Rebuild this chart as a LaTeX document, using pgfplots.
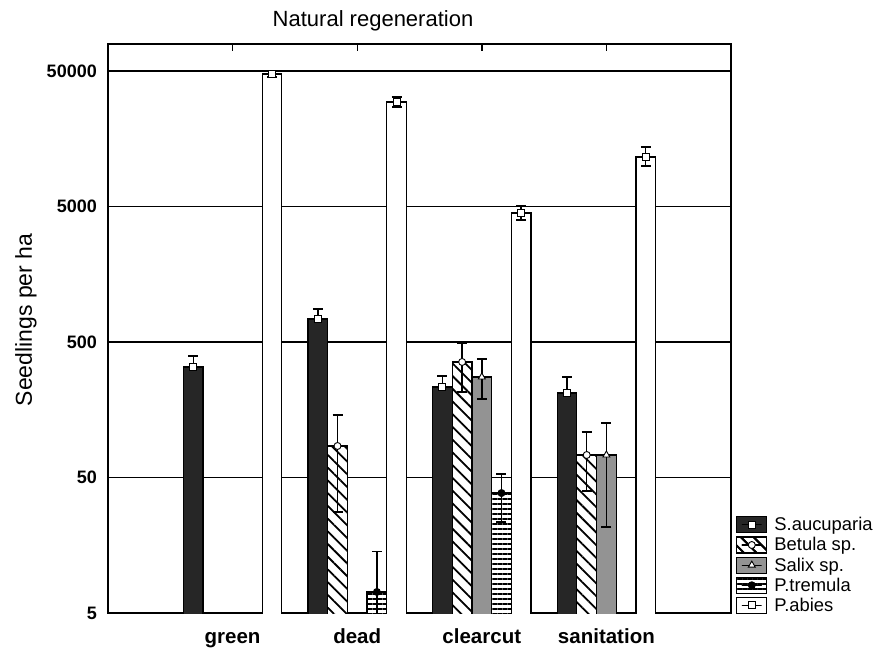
\documentclass[border=0pt]{standalone}
\usepackage{fontspec}
\setmainfont{Liberation Sans}
\usepackage{pgfplots}
\usepackage{pgfplotstable}
\pgfplotsset{compat=1.18}
\usetikzlibrary{patterns.meta}

\definecolor{sauccol}{HTML}{262626}
\definecolor{salixcol}{HTML}{939393}

\pgfplotstableread{
x y ep em
-0.316 327 67 55
0.684 739 137 120
1.684 233 48 42
2.684 210 66 55
}\sauc
\pgfplotstableread{
x y ep em
0.842 85.4 59 57.6
1.842 356 135 142
2.842 73.3 35 33.5
}\betula
\pgfplotstableread{
x y ep em
2 276 99 86
3 73.3 53 51.7
}\salix
\pgfplotstableread{
x y ep em
1.158 7.15 7 5
2.158 38.4 14.7 15
}\ptrem
\pgfplotstableread{
x y ep em
0.316 47500 2500 2500
1.316 29500 2600 2400
2.316 4478 570 500
3.316 11590 2150 1640
}\pabies

\tikzset{
  hatchB/.style={fill=white, postaction={pattern={Lines[angle=-45,distance=9pt,line width=1.8pt]}}},
  hatchT/.style={fill=white, postaction={pattern={Lines[angle=0,distance=5pt,line width=2.4pt]}}},
}
\pgfplotsset{
  barbase/.style={ybar, bar width=0.158, bar shift=0pt, draw=black, line width=1.2pt},
  errs/.style={only marks, forget plot,
    error bars/y dir=both, error bars/y explicit,
    error bars/error bar style={line width=1.4pt, black},
    error bars/error mark options={rotate=90, line width=1.4pt, mark size=5pt, black}},
}

\begin{document}
\begin{tikzpicture}
\begin{axis}[
  scale only axis, width=623pt, height=569pt,
  at={(0,0)}, anchor=south west,
  ymode=log, ymin=5, ymax=79100, xmin=-1, xmax=4,
  xtick={0,1,2,3}, xticklabels={green,dead,clearcut,sanitation},
  xtick pos=upper, xticklabel pos=lower,
  ytick={5,50,500,5000,50000}, yticklabels={5,50,500,5000,50000},
  yminorticks=false,
  ymajorgrids, major grid style={black, line width=1.2pt},
  ytick style={draw=none},
  xtick style={black, line width=1.4pt}, tick align=inside, major tick length=7pt,
  axis line style={line width=1.4pt},
  xticklabel style={font=\fontsize{20.5}{24}\selectfont\bfseries, anchor=base, yshift=-30pt},
  yticklabel style={font=\fontsize{18}{20}\selectfont\bfseries, anchor=east, inner sep=0pt, xshift=-11pt},
  title={Natural regeneration},
  title style={font=\fontsize{22}{26}\selectfont, at={(axis description cs:0.4254,1)}, anchor=base, yshift=11pt},
  ylabel={Seedlings per ha},
  ylabel style={font=\fontsize{23}{26}\selectfont, at={(axis description cs:-0.122,0.515)}, anchor=base},
  legend style={draw=none, fill=none, at={(axis description cs:1,0)}, anchor=south west,
    xshift=5pt, yshift=-2pt, inner sep=0pt, row sep=1.3pt, column sep=5pt,
    font=\fontsize{18.4}{20}\selectfont, nodes={inner sep=2pt}},
  legend cell align=left,
]
% bars
\addplot[barbase, fill=sauccol,
  legend image code/.code={\draw[fill=sauccol, draw=black, line width=1.2pt] (0pt,-8pt) rectangle (30pt,8pt);
    \draw[mark=square*, mark size=3.5pt, mark options={fill=white, draw=black, line width=0.9pt}] plot coordinates {(15pt,0pt)};}]
  table[x=x,y=y]{\sauc};
\addlegendentry{S.aucuparia}
\addplot[barbase, hatchB,
  legend image code/.code={\draw[hatchB, draw=black, line width=1.2pt] (0pt,-8pt) rectangle (30pt,8pt);
    \draw[mark=*, mark size=3.5pt, mark options={fill=white, draw=black, line width=0.9pt}] plot coordinates {(15pt,0pt)};}]
  table[x=x,y=y]{\betula};
\addlegendentry{Betula sp.}
\addplot[barbase, fill=salixcol,
  legend image code/.code={\draw[fill=salixcol, draw=black, line width=1.2pt] (0pt,-8pt) rectangle (30pt,8pt);
    \draw[mark=triangle*, mark size=4pt, mark options={fill=white, draw=black, line width=0.9pt}] plot coordinates {(15pt,0pt)};}]
  table[x=x,y=y]{\salix};
\addlegendentry{Salix sp.}
\addplot[barbase, hatchT,
  legend image code/.code={\draw[hatchT, draw=black, line width=1.2pt] (0pt,-8pt) rectangle (30pt,8pt);
    \draw[mark=*, mark size=3.5pt, mark options={fill=black, draw=black, line width=0.9pt}] plot coordinates {(15pt,0pt)};}]
  table[x=x,y=y]{\ptrem};
\addlegendentry{P.tremula}
\addplot[barbase, fill=white,
  legend image code/.code={\draw[fill=white, draw=black, line width=1.2pt] (0pt,-8pt) rectangle (30pt,8pt);
    \draw[mark=square*, mark size=3.5pt, mark options={fill=white, draw=black, line width=0.9pt}] plot coordinates {(15pt,0pt)};}]
  table[x=x,y=y]{\pabies};
\addlegendentry{P.abies}
% means and error bars
\addplot[errs, error bars/y dir=plus, mark=square*, mark size=3.5pt, mark options={fill=white, draw=black, line width=0.9pt}]
  table[x=x, y=y, y error plus=ep, y error minus=em]{\sauc};
\addplot[errs, mark=*, mark size=3.5pt, mark options={fill=white, draw=black, line width=0.9pt}]
  table[x=x, y=y, y error plus=ep, y error minus=em]{\betula};
\addplot[errs, mark=triangle*, mark size=4pt, mark options={fill=white, draw=black, line width=0.9pt}]
  table[x=x, y=y, y error plus=ep, y error minus=em]{\salix};
\addplot[errs, mark=*, mark size=3.5pt, mark options={fill=black, draw=black, line width=0.9pt}]
  table[x=x, y=y, y error plus=ep, y error minus=em]{\ptrem};
\addplot[errs, mark=square*, mark size=3.5pt, mark options={fill=white, draw=black, line width=0.9pt}]
  table[x=x, y=y, y error plus=ep, y error minus=em]{\pabies};
\end{axis}
\pgfresetboundingbox
\path[use as bounding box] (-108pt,-36pt) rectangle (769pt,613pt);
\end{tikzpicture}
\end{document}
